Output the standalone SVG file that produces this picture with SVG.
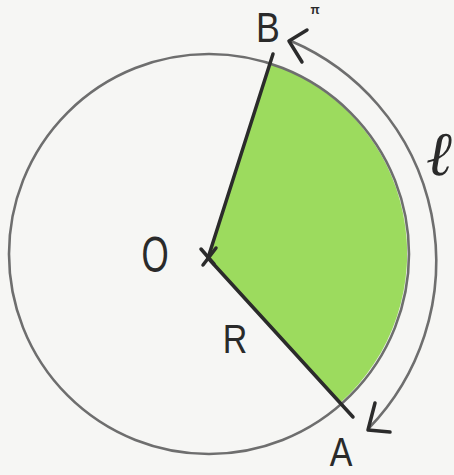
<svg xmlns="http://www.w3.org/2000/svg" width="454" height="475" viewBox="0 0 454 475">
<style>
.lbl{font-family:"Liberation Sans",Arial,sans-serif;fill:#2a2a2a}
.pencil{fill:none;stroke:#6e6e6e;stroke-width:2.6;stroke-linecap:round;stroke-linejoin:round}
.ink{fill:none;stroke:#2b2b2b;stroke-width:3.5;stroke-linecap:round;stroke-linejoin:round}
</style>
<rect width="454" height="475" fill="#f6f6f4"/>
<g id="sector">
<path d="M208 258 L271 64 A200 200 0 0 1 340 403 Z" fill="#9cdb5e"/>
</g>
<g id="circle">
<circle cx="209" cy="254" r="200" class="pencil"/>
</g>
<g id="connectors">
<path d="M208 258 L273 54" class="ink"/>
<path d="M208 258 L353 417" class="ink"/>
<path d="M201 249 L214 264 M216 248 L203 265" class="ink" stroke-width="2.5"/>
<path d="M291 41 A240 240 0 0 1 369 428" class="pencil"/>
<path d="M307 30 L289 41 L302 62" class="ink" stroke-width="3"/>
<path d="M375 403 L368 430 L390 432" class="ink" stroke-width="3"/>
</g>
<g id="label-B"><text x="268" y="42" class="lbl" font-size="42" text-anchor="middle" transform="translate(268 0) scale(0.85 1) translate(-268 0)">B</text></g>
<g id="label-O"><text x="155" y="272" class="lbl" font-size="50" text-anchor="middle" transform="translate(155 0) scale(0.7 1) translate(-155 0)">O</text></g>
<g id="label-R"><text x="235" y="353" class="lbl" font-size="40" text-anchor="middle" transform="translate(235 0) scale(0.85 1) translate(-235 0)">R</text></g>
<g id="label-A"><text x="341" y="466" class="lbl" font-size="40" text-anchor="middle" transform="translate(341 0) scale(0.85 1) translate(-341 0)">A</text></g>
<g id="label-l"><text x="439" y="175" font-family="DejaVu Serif,serif" font-style="italic" font-size="62" fill="#2a2a2a" text-anchor="middle">ℓ</text></g>
<g id="label-top"><text x="315" y="14" class="lbl" font-size="12" font-weight="bold" text-anchor="middle">π</text></g>
</svg>
